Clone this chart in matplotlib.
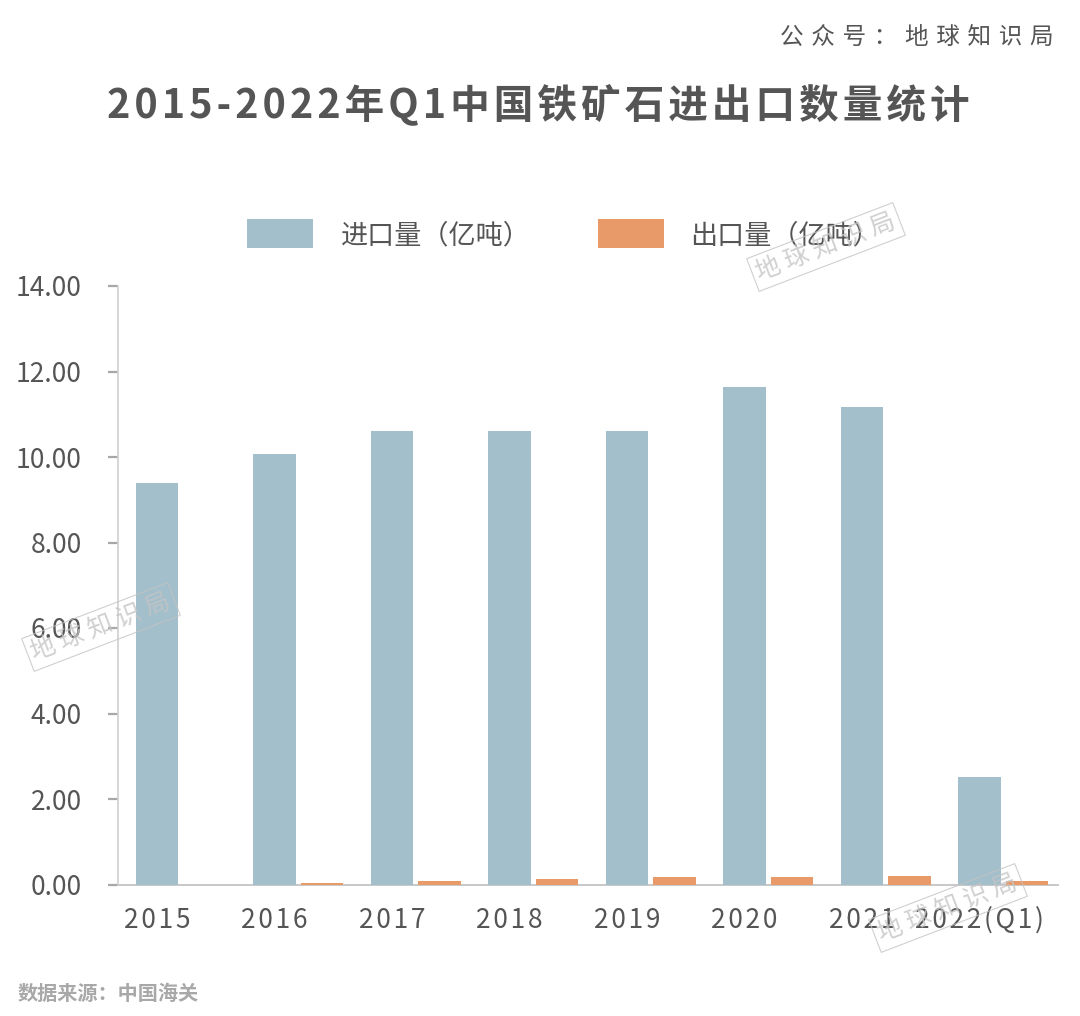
import matplotlib
matplotlib.use("Agg")
import matplotlib.pyplot as plt
from matplotlib.patches import Rectangle
import numpy as np

plt.rcParams['font.family'] = ['Noto Sans CJK SC', 'DejaVu Sans']

years = ['2015', '2016', '2017', '2018', '2019', '2020', '2021', '2022(Q1)']
imports = [9.40, 10.06, 10.61, 10.61, 10.61, 11.63, 11.18, 2.52]
exports = [0.0, 0.04, 0.086, 0.14, 0.17, 0.165, 0.20, 0.086]
yticks = [0, 2, 4, 6, 8, 10, 12, 14]
title = '2015-2022年Q1中国铁矿石进出口数量统计'
account = '公众号：地球知识局'
source = '数据来源：中国海关'
series_names = ['进口量（亿吨）', '出口量（亿吨）']
watermark = '地球知识局'

BLUE = '#A2BFCB'
ORANGE = '#E89A68'
DARK = '#555555'
W, H = 1080, 1016
HAIR = '\u200a'

def sp(s, sep=HAIR):
    return sep.join(s)

fig = plt.figure(figsize=(W / 100, H / 100), dpi=100, facecolor='white')
L, R, T, B = 118, 1058, 286, 884.5
ax = fig.add_axes([L / W, 1 - B / H, (R - L) / W, (B - T) / H])
x = np.arange(len(years))
unit = (R - L) / len(years)
bw = 42.5 / unit
off_b = 19.75 / unit
off_o = 27.5 / unit
ax.bar(x - off_b, imports, bw, color=BLUE, zorder=3)
ax.bar(x + off_o, exports, bw, color=ORANGE, zorder=3)
ax.set_xlim(-0.5, len(years) - 0.5)
ax.set_ylim(0, 14)
ax.set_yticks(yticks)
ax.set_yticklabels([f'{v:.2f}' for v in yticks], fontsize=19, fontweight='medium', color=DARK)
ax.set_xticks(x - off_b)
ax.set_xticklabels([sp(y) for y in years], fontsize=19, fontweight='medium', color=DARK)
ax.tick_params(axis='x', length=0, pad=16)
ax.tick_params(axis='y', length=7, width=1.6, color='#A8A8A8', pad=19)
for s in ['top', 'right']:
    ax.spines[s].set_visible(False)
ax.spines['left'].set_color('#D0D0D0')
ax.spines['bottom'].set_color('#C8C8C8')
ax.spines['left'].set_linewidth(1.2)
ax.spines['bottom'].set_linewidth(1.4)
ax.set_axisbelow(True)

def ft(px, py, s, **k):
    return fig.text(px / W, 1 - py / H, s, **k)

ft(538, 105, sp(title), fontsize=28.5, fontweight='bold', color=DARK, ha='center', va='center')
ft(1054, 37, sp(account, ' ' + HAIR), fontsize=17, color=DARK, ha='right', va='center')
ft(18, 993, source, fontsize=14.5, fontweight='bold', color='#A8A8A8', ha='left', va='center')

for px, col, name, tx in [(247, BLUE, series_names[0], 341), (598, ORANGE, series_names[1], 690)]:
    fig.add_artist(Rectangle((px / W, 1 - 248 / H), 66 / W, 29 / H, transform=fig.transFigure,
                             facecolor=col, edgecolor='none'))
    ft(tx, 236, name, fontsize=19.5, fontweight='medium', color=DARK, ha='left', va='center')

for cx, cy in [(826, 247), (101, 627), (948, 908)]:
    ft(cx, cy, sp(watermark, ' '), fontsize=18, fontweight='light', color='#C4C4C4', alpha=0.8, rotation=21,
       rotation_mode='anchor', ha='center', va='center', zorder=10,
       bbox=dict(boxstyle='square,pad=0.18', facecolor='none', edgecolor='#C4C4C4', linewidth=0.8, alpha=0.8))

fig.savefig('out.png', dpi=100)
